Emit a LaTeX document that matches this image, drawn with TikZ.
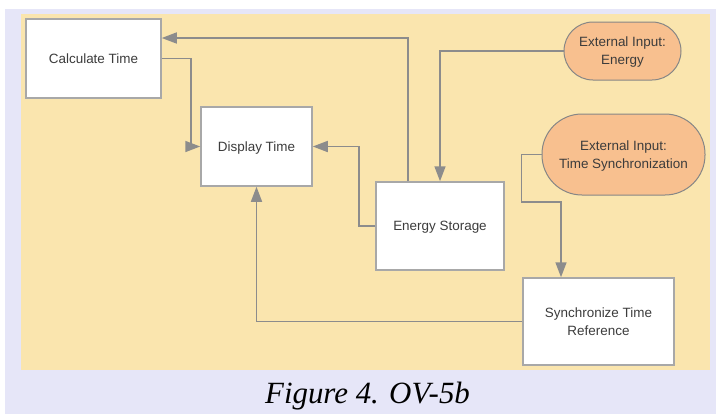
\documentclass[tikz,border=0pt]{standalone}
\usepackage{fontspec}
\setmainfont{Liberation Sans}
\newfontfamily\captionfont{Liberation Serif}
\usepackage{xcolor}
\usepackage{tikz}
\usetikzlibrary{arrows.meta, positioning}

\definecolor{panel}{HTML}{FAE5AE}
\definecolor{frame}{HTML}{E6E6F8}
\definecolor{extfill}{HTML}{F8C08F}
\definecolor{boxline}{HTML}{A8A8A8}
\definecolor{wire}{HTML}{8C8C8C}
\definecolor{label}{HTML}{3C3C3C}

\begin{document}
\begin{tikzpicture}[
    x=1bp, y=-1bp,
    every node/.style={font=\fontsize{13.5}{18}\selectfont, text=label},
    task/.style={rectangle, draw=boxline, fill=white, line width=1.5bp, align=center, inner sep=0pt, text depth=0pt},
    extinput/.style={rectangle, draw=boxline!80!black, fill=extfill, line width=1bp, align=center, inner sep=0pt, text depth=0pt},
    arrow/.style={-{Triangle[length=15bp, width=11bp]}, draw=wire, line width=1.6bp}
]

% backgrounds
\fill[white] (0,0) rectangle (716,414);
\fill[frame] (5,9) rectangle (716,414);
\fill[panel] (21,14) rectangle (710,370);
\useasboundingbox (0,0) rectangle (716,414);

\node (calc) [task, minimum width=135bp, minimum height=79bp] at (93.5,58.5) {Calculate Time};
\node (disp) [task, minimum width=111bp, minimum height=79bp] at (256.5,146.5) {Display Time};
\node (store) [task, minimum width=128bp, minimum height=88bp] at (440,226) {Energy Storage};
\node (sync) [task, minimum width=151bp, minimum height=87bp] at (598.5,321.5) {Synchronize Time\\Reference};
\node (extE) [extinput, minimum width=117bp, minimum height=58bp, rounded corners=29bp] at (622.5,51) {External Input:\\Energy};
\node (extT) [extinput, minimum width=163bp, minimum height=81bp, rounded corners=40bp] at (623.5,154.5) {External Input:\\Time Synchronization};

\draw [arrow] ([xshift=-32bp]store.north) |- ([yshift=20.5bp]calc.east);
\draw [arrow] (calc.east) -- ++(29,0) |- (disp.west);
\draw [arrow] (store.west) -- ++(-16,0) |- (disp.east);
\draw [arrow] (extE.west) -| (store.north);
\draw [arrow] (extT.west) -- ++(-20,0) -- ++(0,47.5) -| ([xshift=-37.5bp]sync.north);
\draw [arrow] (sync.west) -| (disp.south);

\node (caption) [anchor=base, font=\captionfont\itshape\fontsize{31}{34}\selectfont, text=black] at (367.5,403) {Figure 4. OV-5b};

\end{tikzpicture}
\end{document}
